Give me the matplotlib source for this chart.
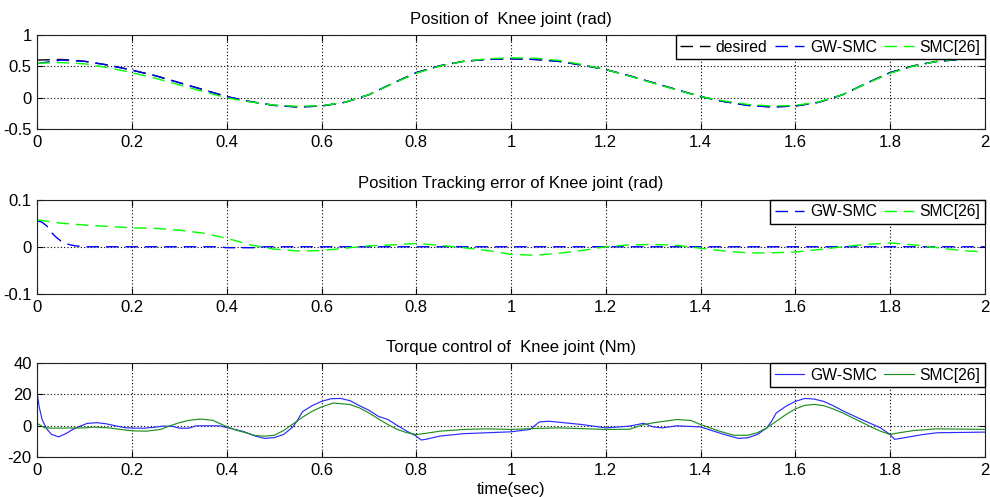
import numpy as np
import matplotlib
matplotlib.use("Agg")
import matplotlib.pyplot as plt
from matplotlib.ticker import FormatStrFormatter

plt.rcParams['font.family'] = ['Liberation Sans', 'DejaVu Sans']
plt.rcParams['font.size'] = 12

# ------------------ DATA ------------------

# knee joint position (rad), sampled every 0.05 s
t_pos = np.round(np.arange(0, 2.0001, 0.05), 3)
q_desired = [0.60, 0.61, 0.58, 0.52, 0.44, 0.35, 0.24, 0.13, 0.02, -0.06,
             -0.12, -0.145, -0.13, -0.07, 0.05, 0.23, 0.40, 0.51, 0.58, 0.61,
             0.62, 0.61, 0.58, 0.52, 0.45, 0.35, 0.24, 0.13, 0.02, -0.06,
             -0.12, -0.145, -0.13, -0.07, 0.05, 0.23, 0.40, 0.51, 0.58, 0.61,
             0.62]
q_gwsmc = [0.545, 0.60, 0.58, 0.52, 0.44, 0.35, 0.24, 0.13, 0.02, -0.06,
           -0.12, -0.145, -0.13, -0.07, 0.05, 0.23, 0.40, 0.51, 0.58, 0.61,
           0.62, 0.61, 0.58, 0.52, 0.45, 0.35, 0.24, 0.13, 0.02, -0.06,
           -0.12, -0.145, -0.13, -0.07, 0.05, 0.23, 0.40, 0.51, 0.58, 0.61,
           0.62]
q_smc = [0.55, 0.56, 0.54, 0.48, 0.40, 0.31, 0.205, 0.10, 0.00, -0.065,
         -0.115, -0.135, -0.125, -0.07, 0.05, 0.225, 0.39, 0.505, 0.58, 0.62,
         0.635, 0.63, 0.595, 0.53, 0.45, 0.345, 0.235, 0.125, 0.02, -0.05,
         -0.105, -0.13, -0.12, -0.065, 0.05, 0.225, 0.39, 0.505, 0.58, 0.62,
         0.63]

# tracking error (rad)
t_err_gw = [0.0, 0.01, 0.02, 0.03, 0.04, 0.05, 0.06, 0.07, 0.08, 0.10,
            0.38, 0.40, 0.46, 0.48, 2.0]
err_gwsmc = [0.055, 0.052, 0.044, 0.030, 0.020, 0.012, 0.007, 0.004, 0.002, 0.0,
             0.0, -0.002, -0.002, 0.0, 0.0]
err_smc = [0.057, 0.050, 0.046, 0.043, 0.040, 0.039, 0.035, 0.029, 0.018, 0.004,
           -0.005, -0.009, -0.008, -0.003, 0.002, 0.004, 0.007, 0.003, -0.002, -0.008,
           -0.016, -0.018, -0.014, -0.008, 0.000, 0.004, 0.005, 0.003, -0.003, -0.009,
           -0.013, -0.013, -0.011, -0.006, 0.000, 0.005, 0.008, 0.004, -0.002, -0.008,
           -0.011]

# control torque (Nm)
t_tau_gw = [0.000, 0.004, 0.010, 0.020, 0.030, 0.045, 0.060, 0.075, 0.090, 0.105,
            0.125, 0.145, 0.165, 0.185, 0.205, 0.225, 0.245, 0.265, 0.285, 0.300,
            0.320, 0.335, 0.385, 0.405, 0.435, 0.460, 0.480, 0.500, 0.520, 0.540,
            0.550, 0.560, 0.580, 0.600, 0.620, 0.640, 0.660, 0.680, 0.700, 0.720,
            0.740, 0.760, 0.780, 0.800, 0.810, 0.820, 0.850, 0.900, 0.950, 1.000,
            1.040, 1.060, 1.080, 1.100, 1.150, 1.200, 1.250, 1.280, 1.300, 1.320,
            1.350, 1.400, 1.450, 1.480, 1.500, 1.520, 1.540, 1.550, 1.560, 1.580,
            1.600, 1.620, 1.640, 1.660, 1.680, 1.700, 1.740, 1.780, 1.800, 1.810,
            1.830, 1.870, 1.900, 2.000]
tau_gwsmc = [20, 12, 4, -2, -5.5, -7, -5, -2.3, -0.3, 1.5,
             2, 1.3, 0, -1.2, -1.5, -1.5, -1, -0.2, -0.3, -1.5,
             -1.5, 0, 0, -1.5, -3.6, -6.5, -8, -7.5, -5.5, -0.6,
             4, 9, 12.8, 15.5, 17.2, 17.4, 16, 12.8, 9.9, 6,
             4, 0.2, -3.4, -6.5, -9, -8.6, -6.5, -5, -4.4, -3.8,
             -2.3, 2.5, 2.9, 2.3, 0.8, -1.3, -0.2, 1.6, -0.7, -1.3,
             0, -0.7, -5.5, -8, -7.6, -5.5, -1.3, 2.9, 8.2, 12.4,
             15.5, 17.4, 17, 15.5, 12.8, 9.6, 4, -1.3, -5.5, -8.6,
             -7.6, -5.5, -4.4, -4]
t_tau_smc = [0.000, 0.015, 0.030, 0.100, 0.120, 0.150, 0.200, 0.230, 0.260, 0.280,
             0.300, 0.320, 0.345, 0.370, 0.400, 0.420, 0.440, 0.460, 0.480, 0.500,
             0.520, 0.540, 0.560, 0.580, 0.600, 0.625, 0.660, 0.680, 0.700, 0.720,
             0.740, 0.760, 0.780, 0.800, 0.820, 0.850, 0.900, 0.950, 1.000, 1.050,
             1.100, 1.200, 1.250, 1.280, 1.300, 1.350, 1.380, 1.400, 1.440, 1.470,
             1.500, 1.520, 1.540, 1.560, 1.580, 1.600, 1.620, 1.640, 1.660, 1.680,
             1.700, 1.740, 1.760, 1.780, 1.800, 1.820, 1.850, 1.900, 2.000]
tau_smc = [1.5, -1.2, -1.5, -1.3, -0.8, -1.3, -3.2, -3.4, -2.3, 0,
           2, 3.5, 4.3, 3.5, -0.5, -2.8, -4.4, -6.2, -6.6, -6,
           -3, 1.2, 5.5, 9.2, 12, 14.5, 13.5, 11.4, 8.2, 4.4,
           0.8, -2.3, -4.4, -5.5, -4.8, -3.4, -2.3, -1.9, -2.3, -1.7,
           -1.3, -2.3, -2.2, 0.8, 1.9, 4, 3.4, 0.8, -3.4, -6,
           -6, -4.4, -1.3, 2.9, 7.1, 10.7, 13, 13.6, 12.8, 10.7,
           8.2, 2.3, -0.7, -3.4, -5.5, -4.4, -3, -1.9, -2.3]

# ------------------ PLOT ------------------

DASH = (0, (9, 5))
LEG = dict(loc='upper right', borderaxespad=0, fancybox=False, edgecolor='k',
           framealpha=1, handlelength=1.9, handletextpad=0.35, columnspacing=0.45,
           borderpad=0.3, fontsize=11.3)


def style_axes(ax, yticks, ylim):
    ax.set_xlim(0, 2)
    ax.set_ylim(*ylim)
    ax.set_xticks(np.arange(0, 2.01, 0.2))
    ax.set_yticks(yticks)
    ax.xaxis.set_major_formatter(FormatStrFormatter('%g'))
    ax.yaxis.set_major_formatter(FormatStrFormatter('%g'))
    ax.grid(True, color='k', linestyle=(0, (1, 2)), linewidth=0.8)
    ax.tick_params(direction='in', length=4, top=True, right=True, pad=4,
                   labelsize=12)
    for s in ax.spines.values():
        s.set_linewidth(0.8)
        s.set_color('#222222')


fig = plt.figure(figsize=(9.9, 4.97), dpi=100)
left, width, height = 0.0377, 0.957, 0.19

ax1 = fig.add_axes([left, 0.7398, width, height])
ax1.plot(t_pos, q_desired, color='k', linestyle=DASH, lw=1, label='desired')
ax1.plot(t_pos, q_gwsmc, color='#0000ff', linestyle=DASH, lw=1, label='GW-SMC')
ax1.plot(t_pos, q_smc, color='#00ff00', linestyle=DASH, lw=1, label='SMC[26]')
style_axes(ax1, [-0.5, 0, 0.5, 1], (-0.5, 1))
ax1.set_title('Position of  Knee joint (rad)', fontsize=12, pad=8)
ax1.legend(ncol=3, **LEG)

ax2 = fig.add_axes([left, 0.4085, width, height])
ax2.plot(t_err_gw, err_gwsmc, color='#0000ff', linestyle=DASH, lw=1, label='GW-SMC')
ax2.plot(t_pos, err_smc, color='#00ff00', linestyle=DASH, lw=1, label='SMC[26]')
style_axes(ax2, [-0.1, 0, 0.1], (-0.1, 0.1))
ax2.set_title('Position Tracking error of Knee joint (rad)', fontsize=12, pad=8)
ax2.legend(ncol=2, **LEG)

ax3 = fig.add_axes([left, 0.0799, width, height])
ax3.plot(t_tau_gw, tau_gwsmc, color='#2a2aff', lw=0.85, label='GW-SMC')
ax3.plot(t_tau_smc, tau_smc, color='#1f8f1f', lw=0.85, label='SMC[26]')
style_axes(ax3, [-20, 0, 20, 40], (-20, 40))
ax3.set_title('Torque control of  Knee joint (Nm)', fontsize=12, pad=8)
ax3.set_xlabel('time(sec)', labelpad=3)
ax3.legend(ncol=2, **LEG)

fig.savefig('out.png', dpi=100)
